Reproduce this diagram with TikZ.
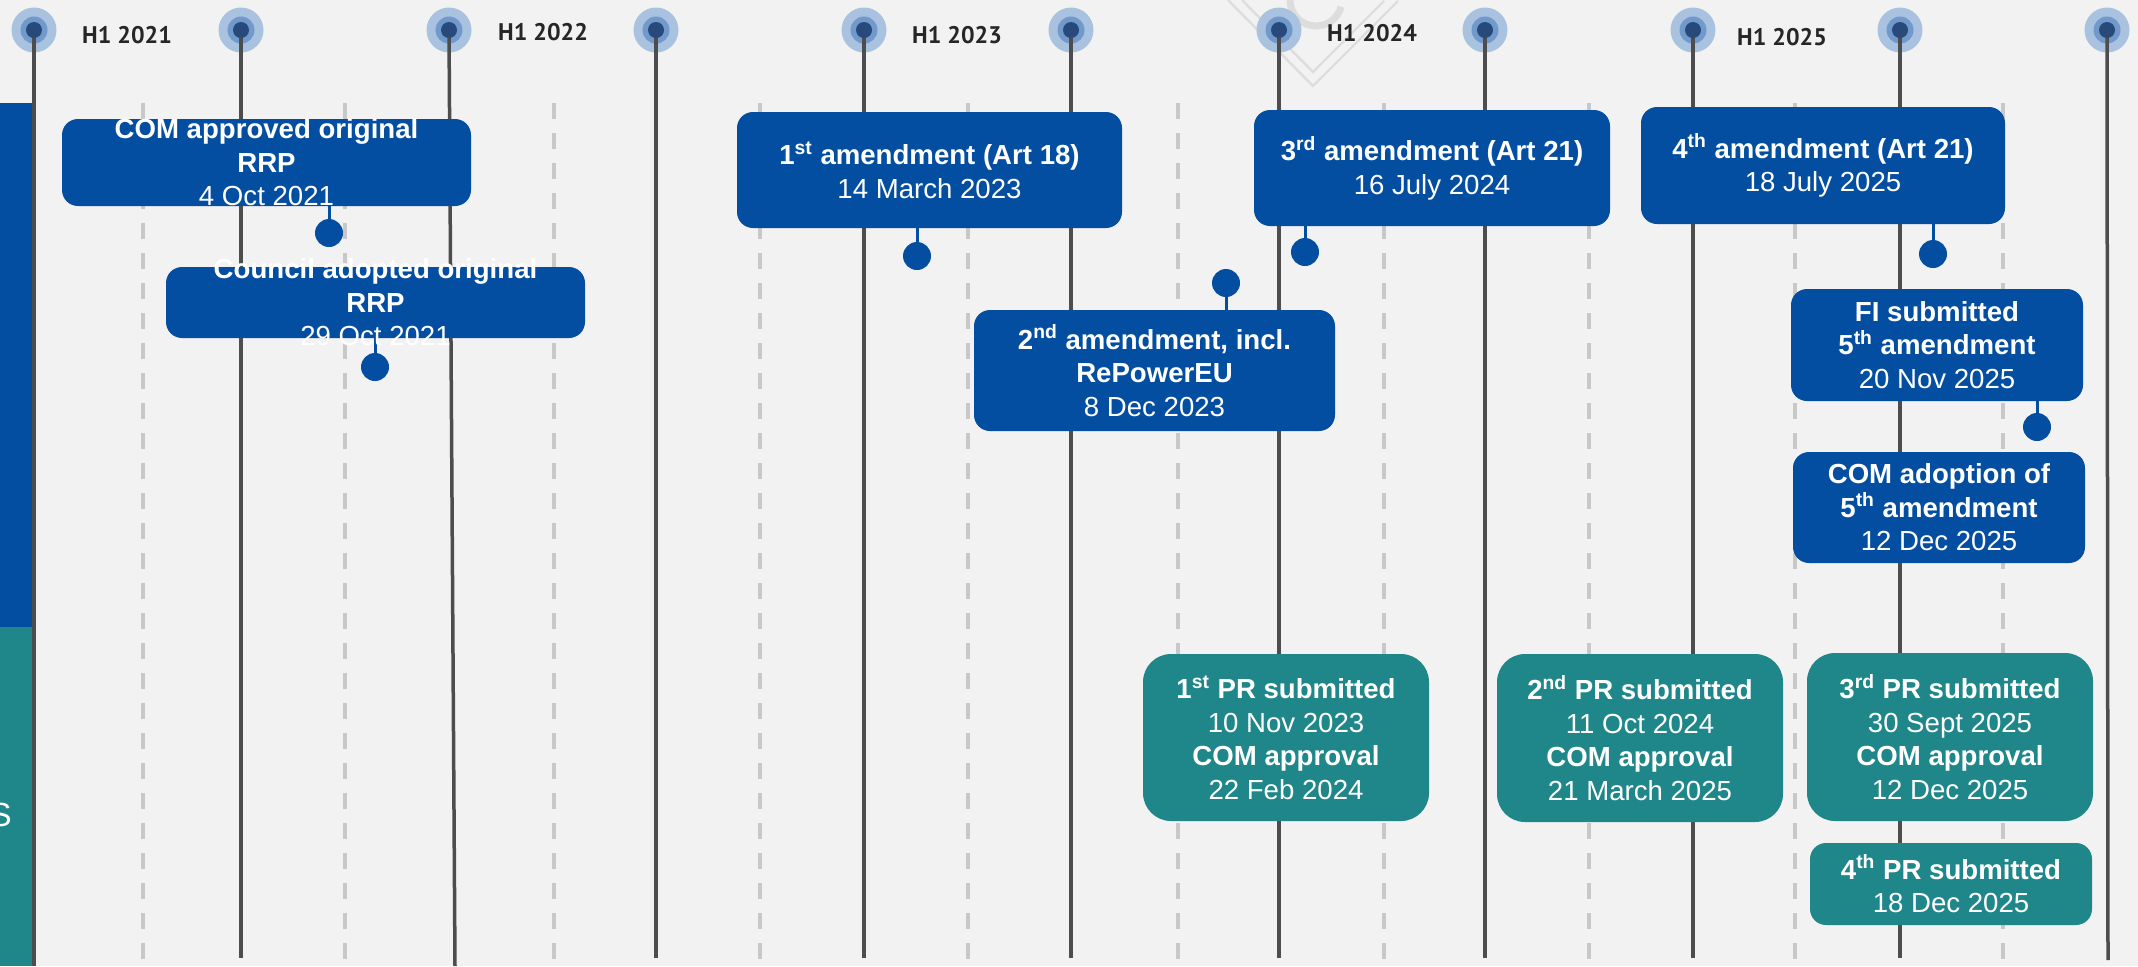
\documentclass[tikz,border=0pt]{standalone}
\usepackage{fontspec}
\setmainfont{Liberation Sans}
\newfontfamily\yearfont{PT Sans}
\definecolor{bg}{HTML}{F2F2F2}
\definecolor{eublue}{HTML}{044EA1}
\definecolor{prteal}{HTML}{1F8789}
\definecolor{vline}{HTML}{4D4D4D}
\definecolor{dline}{HTML}{C8C8C8}
\definecolor{ringA}{HTML}{A9C2DF}
\definecolor{ringB}{HTML}{7199CC}
\definecolor{dotc}{HTML}{274A7B}
\definecolor{yeartxt}{HTML}{262626}
\definecolor{wm}{HTML}{DDDDDD}
\begin{document}
\begin{tikzpicture}[x=0.5pt,y=-0.5pt,
  bluebox/.style={fill=eublue, rounded corners=8pt, inner sep=0pt},
  tealbig/.style={fill=prteal, rounded corners=14pt, inner sep=0pt},
  tealsmall/.style={fill=prteal, rounded corners=8pt, inner sep=0pt},
  boxtxt/.style={text=white, align=center, inner sep=0pt, font=\fontsize{13.8pt}{16.75pt}\selectfont},
  pinnode/.style={circle, fill=eublue, minimum size=14pt, inner sep=0pt},
  stem/.style={draw=eublue, line width=1.5pt},
  solidline/.style={draw=vline, line width=1.75pt},
  dashline/.style={draw=dline, line width=1.8pt, dash pattern=on 8pt off 7pt},
  outerring/.style={circle, fill=ringA, minimum size=22.5pt, inner sep=0pt},
  midring/.style={circle, fill=ringB, minimum size=13.5pt, inner sep=0pt},
  topdot/.style={circle, fill=dotc, minimum size=8pt, inner sep=0pt},
  yearlbl/.style={text=yeartxt, inner sep=0pt, font=\yearfont\bfseries\fontsize{12pt}{14pt}\selectfont},
  wmline/.style={draw=wm, line width=1.2pt}
]
% background
\fill[bg] (0,0) rectangle (2138,966);
\useasboundingbox (0,0) rectangle (2138,966);

% faint watermark
\draw[wmline] (1228,0) -- (1313,86) -- (1398,1);
\draw[wmline] (1242,0) -- (1313,72) -- (1384,1);
\draw[draw=wm, line width=3.5pt] (1290,0) arc[start angle=180, end angle=345, radius=13pt];

% left side bars
\fill[eublue] (0,103) rectangle (33,627);
\fill[prteal] (0,627) rectangle (33,966);
\node[anchor=east, text=white, inner sep=0pt, font=\fontsize{16.75pt}{20pt}\selectfont] (sideS) at (12,815) {S};

% dashed half-year lines
\foreach \x [count=\i] in {143,345,554,760,968,1178,1384,1589,1795,2003}
  \draw[dashline] (\x,103) coordinate (dt\i) -- (\x,966) coordinate (db\i);

% solid timeline lines with top markers
\foreach \x/\bx/\by [count=\i] in {34/34/966,241/241/958,449/455/966,656/656/958,864/864/958,1071/1071/958,1279/1279/958,1485/1485/958,1693/1693/958,1900/1900/958,2107/2108/960} {
  \node[outerring] (ro\i) at (\x,30) {};
  \node[midring] (rm\i) at (\x,30) {};
  \coordinate (bt\i) at (\bx,\by);
  \draw[solidline] (ro\i.center) -- (bt\i);
  \node[topdot] (t\i) at (\x,30) {};
}

% year labels
\node[yearlbl] (y21) at (127,35) {H1 2021};
\node[yearlbl] (y22) at (543,32) {H1 2022};
\node[yearlbl] (y23) at (957,35) {H1 2023};
\node[yearlbl] (y24) at (1372,33) {H1 2024};
\node[yearlbl] (y25) at (1782,37) {H1 2025};

% blue amendment boxes
\node[bluebox, minimum width=204.5pt, minimum height=43.5pt] (boxA) at (266.5,162.5) {};
\node[bluebox, minimum width=209.5pt, minimum height=35.5pt] (boxB) at (375.5,302.5) {};
\node[bluebox, minimum width=192.5pt, minimum height=58pt] (boxC) at (929.5,170) {};
\node[bluebox, minimum width=180.5pt, minimum height=60.5pt] (boxD) at (1154.5,370.5) {};
\node[bluebox, minimum width=178pt, minimum height=58pt] (boxE) at (1432,168) {};
\node[bluebox, minimum width=182pt, minimum height=58.5pt] (boxF) at (1823,165.5) {};
\node[bluebox, minimum width=146pt, minimum height=56pt] (boxG) at (1937,345) {};
\node[bluebox, minimum width=146pt, minimum height=55.5pt] (boxH) at (1939,507.5) {};

% teal progress report boxes
\node[tealbig, minimum width=143pt, minimum height=83.5pt] (pr1) at (1286,737.5) {};
\node[tealbig, minimum width=143pt, minimum height=84pt] (pr2) at (1640,738) {};
\node[tealbig, minimum width=143pt, minimum height=84pt] (pr3) at (1950,737) {};
\node[tealsmall, minimum width=141pt, minimum height=41pt] (pr4) at (1951,884) {};

% pins
\node[pinnode] (pA) at (329,233) {};
\node[pinnode] (pB) at (375,367) {};
\node[pinnode] (pC) at (917,256) {};
\node[pinnode] (pD) at (1226,283) {};
\node[pinnode] (pE) at (1305,252) {};
\node[pinnode] (pF) at (1933,254) {};
\node[pinnode] (pG) at (2037,427) {};
\draw[stem] (pA.center) -- (pA.center |- boxA.south);
\draw[stem] (pB.center) -- (pB.center |- boxB.south);
\draw[stem] (pC.center) -- (pC.center |- boxC.south);
\draw[stem] (pD.center) -- (pD.center |- boxD.north);
\draw[stem] (pE.center) -- (pE.center |- boxE.south);
\draw[stem] (pF.center) -- (pF.center |- boxF.south);
\draw[stem] (pG.center) -- (pG.center |- boxG.south);

% texts
\node[boxtxt] (txtA) at (boxA.center) {\textbf{COM approved original}\\\textbf{RRP}\\4 Oct 2021};
\node[boxtxt] (txtB) at (boxB.center) {\textbf{Council adopted original}\\\textbf{RRP}\\29 Oct 2021};
\node[boxtxt] (txtC) at (boxC.center) {\textbf{1\textsuperscript{st} amendment (Art 18)}\\14 March 2023};
\node[boxtxt] (txtD) at (boxD.center) {\textbf{2\textsuperscript{nd} amendment, incl.}\\\textbf{RePowerEU}\\8 Dec 2023};
\node[boxtxt] (txtE) at (boxE.center) {\textbf{3\textsuperscript{rd} amendment (Art 21)}\\16 July 2024};
\node[boxtxt] (txtF) at (boxF.center) {\textbf{4\textsuperscript{th} amendment (Art 21)}\\18 July 2025};
\node[boxtxt] (txtG) at (boxG.center) {\textbf{FI submitted}\\\textbf{5\textsuperscript{th} amendment}\\20 Nov 2025};
\node[boxtxt] (txtH) at (boxH.center) {\textbf{COM adoption of}\\\textbf{5\textsuperscript{th} amendment}\\12 Dec 2025};
\node[boxtxt] (txtP1) at (pr1.center) {\textbf{1\textsuperscript{st} PR submitted}\\10 Nov 2023\\\textbf{COM approval}\\22 Feb 2024};
\node[boxtxt] (txtP2) at (pr2.center) {\textbf{2\textsuperscript{nd} PR submitted}\\11 Oct 2024\\\textbf{COM approval}\\21 March 2025};
\node[boxtxt] (txtP3) at (pr3.center) {\textbf{3\textsuperscript{rd} PR submitted}\\30 Sept 2025\\\textbf{COM approval}\\12 Dec 2025};
\node[boxtxt] (txtP4) at (pr4.center) {\textbf{4\textsuperscript{th} PR submitted}\\18 Dec 2025};
\end{tikzpicture}
\end{document}
